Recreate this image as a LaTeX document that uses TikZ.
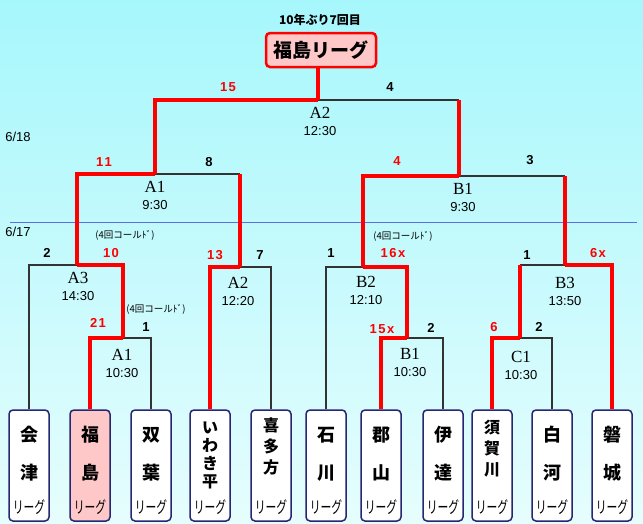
\documentclass[tikz,border=0pt]{standalone}
\usepackage{fontspec}
\setmainfont{Liberation Sans}
\newfontfamily\jpfont{Noto Sans CJK JP}
\newfontfamily\matchfont{Liberation Serif}
\usetikzlibrary{calc, positioning}
\definecolor{skytop}{HTML}{A6F7FC}
\definecolor{skybottom}{HTML}{E6FDFD}
\definecolor{winred}{HTML}{FF0000}
\definecolor{loseline}{HTML}{333333}
\definecolor{dayblue}{HTML}{5C6FE6}
\definecolor{boxnavy}{HTML}{262673}
\definecolor{homepink}{HTML}{FFC8C8}

\begin{document}
\begin{tikzpicture}[x=1pt, y=-1pt,
  win/.style={winred, line width=4pt},
  lose/.style={loseline, line width=1.8pt},
  teambox/.style={draw=boxnavy, line width=1.5pt, rounded corners=4pt, minimum width=40pt, minimum height=111pt, inner sep=0pt},
  score/.style={font=\fontsize{13}{13}\selectfont\bfseries},
  matchname/.style={font=\matchfont\fontsize{17}{17}\selectfont},
  matchtime/.style={font=\fontsize{13}{13}\selectfont},
  note/.style={font=\jpfont\fontsize{9.5}{9.5}\selectfont}]
  % Background
  \shade[top color=skytop, bottom color=skybottom] (0,0) rectangle (643,523);
  \useasboundingbox (0,0) rectangle (643,523);

  % Day separator
  \draw[dayblue, line width=0.8pt] (10,222) -- (637,222);
  \node[matchtime] (day18) at (18,137) {6/18};
  \node[matchtime] (day17) at (18,232) {6/17};

  % Title
  \node[font=\jpfont\bfseries\fontsize{12}{12}\selectfont] (titlenote) at (320,20) {10年ぶり7回目};
  \node[draw=winred, line width=2.5pt, fill=homepink, rounded corners=4pt, minimum width=110pt, minimum height=34pt,
        font=\jpfont\bfseries\fontsize{19}{19}\selectfont] (title) at (321,50) {福島リーグ};

  % Team boxes
  \foreach \x/\id/\col in {29/aizu/white, 90/fukushima/homepink, 151/futaba/white, 210/iwaki/white,
                           271/kitakata/white, 326/ishikawa/white, 381/koriyama/white, 443/date/white,
                           492/sukagawa/white, 552/shirakawa/white, 612/iwaki2/white}
    \node[teambox, fill=\col] (\id) at (\x,465.5) {};

  % Team names
  \foreach \id/\name/\fs/\bs/\dy in {aizu/{会\\津}/18/38/11.5, fukushima/{福\\島}/18/38/11.5, futaba/{双\\葉}/18/38/11.5,
                                   iwaki/{い\\わ\\き\\平}/16/18/10.5, kitakata/{喜\\多\\方}/16/21/19.5,
                                   ishikawa/{石\\川}/18/38/11.5, koriyama/{郡\\山}/18/38/11.5, date/{伊\\達}/18/38/11.5,
                                   sukagawa/{須\\賀\\川}/16/21/16.5, shirakawa/{白\\河}/18/38/11.5, iwaki2/{磐\\城}/18/38/11.5} {
    \node[align=center, inner sep=0pt, font=\jpfont\bfseries\fontsize{\fs}{\bs}\selectfont] (\id-name) at ([yshift=\dy pt]\id.center) {\name};
    \node[inner sep=0pt, font=\jpfont\fontsize{15}{15}\selectfont] (\id-league) at ([yshift=-41.5pt]\id.center) {\scalebox{0.72}[1.1]{リーグ}};
  }

  % Match points
  \coordinate (rA1) at (123,338);
  \coordinate (rA3) at (77,265);
  \coordinate (rA2) at (240,267);
  \coordinate (sA1) at (155,174);
  \coordinate (rB1) at (407,338);
  \coordinate (rB2) at (363,267);
  \coordinate (rC1) at (520,338);
  \coordinate (rB3) at (565,265);
  \coordinate (sB1) at (459,176);
  \coordinate (fA2) at (318,100);

  % Losing legs
  \draw[lose] (aizu.north) |- (rA3);
  \draw[lose] (futaba.north) |- (rA1);
  \draw[lose] (kitakata.north) |- (rA2);
  \draw[lose] (ishikawa.north) |- (rB2);
  \draw[lose] (date.north) |- (rB1);
  \draw[lose] (shirakawa.north) |- (rC1);
  \draw[lose] (rA2 |- sA1) -- (sA1);
  \draw[lose] (rC1 |- rB3) -- (rB3);
  \draw[lose] (rB3 |- sB1) -- (sB1);
  \draw[lose] (sB1 |- fA2) -- (fA2);

  % Winning paths
  \draw[win] (fukushima.north) |- (rA1);
  \draw[win] (rA1) |- (rA3);
  \draw[win] (rA3) |- (sA1);
  \draw[win] (iwaki.north) |- (rA2);
  \draw[win] (rA2) -- (rA2 |- sA1);
  \draw[win] (sA1) |- (fA2);
  \draw[win] (koriyama.north) |- (rB1);
  \draw[win] (rB1) |- (rB2);
  \draw[win] (rB2) |- (sB1);
  \draw[win] (sukagawa.north) |- (rC1);
  \draw[win] (rC1) -- (rC1 |- rB3);
  \draw[win] (iwaki2.north) |- (rB3);
  \draw[win] (rB3) -- (rB3 |- sB1);
  \draw[win] (sB1) -- (sB1 |- fA2);
  \draw[win] (fA2) -- (fA2 |- title.south);

  % Match names and start times
  \foreach \x/\y/\name/\time [count=\i] in {320/113/A2/12:30, 155/187/A1/9:30, 463/189/B1/9:30, 78/278/A3/14:30,
                                             238/283/A2/12:20, 122/355/A1/10:30, 366/282/B2/12:10, 410/354/B1/10:30,
                                             565/283/B3/13:50, 521/357/C1/10:30} {
    \node[matchname] (match\i) at (\x,\y) {\name};
    \node[matchtime] (time\i) at (\x,\y+18) {\time};
  }

  % Scores
  \foreach \x/\y/\s [count=\i] in {390/87/4, 209/162/8, 530/160/3, 47/253/2, 260/255/7,
                                   146/327/1, 331/253/1, 431/328/2, 527/255/1, 539/327/2}
    \node[score] (lost\i) at (\x,\y) {\s};
  \foreach \x/\y/\s [count=\i] in {228/87/1\kern1.5pt 5, 104/162/1\kern1.5pt 1, 397/161/4, 111/253/1\kern1.5pt 0,
                                   215/255/1\kern1.5pt 3, 98/323/2\kern1.5pt 1, 393/253/1\kern1.5pt 6\kern1.5pt x,
                                   382/329/1\kern1.5pt 5\kern1.5pt x, 598/253/6\kern1.5pt x, 494/327/6}
    \node[score, winred] (won\i) at (\x,\y) {\s};

  % Called games
  \foreach \x/\y [count=\i] in {125/235, 156/309, 403/236}
    \node[note] (called\i) at (\x,\y) {(4回コールﾄﾞ)};
\end{tikzpicture}
\end{document}
